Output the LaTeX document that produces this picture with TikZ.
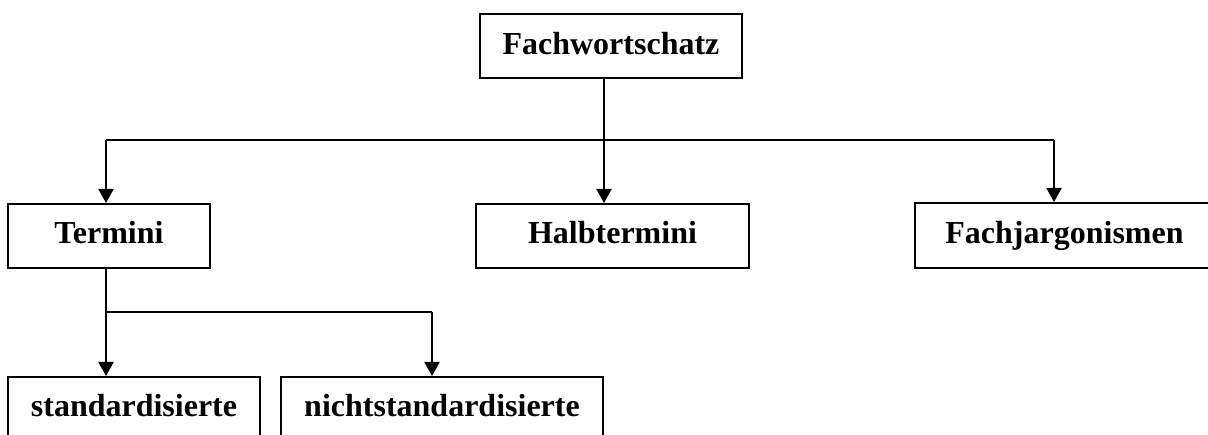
\documentclass[tikz,border=0pt]{standalone}
\usepackage{fontspec}
\setmainfont{Liberation Serif}
\usetikzlibrary{arrows.meta}
\begin{document}
\begin{tikzpicture}[x=1pt,y=-1pt,
  box/.style={draw, line width=2pt, rectangle, inner sep=0pt, minimum height=64pt,
    font=\fontsize{32}{38}\selectfont\bfseries, text height=22pt, text depth=6pt},
  conn/.style={line width=2pt},
  arr/.style={line width=2pt, -{Triangle[width=15pt,length=14pt]}}]
\useasboundingbox (0,0) rectangle (1208,435);
\clip (0,0) rectangle (1208,435);
\node[box, minimum width=262pt] (t) at (611,46.5) {Fachwortschatz};
\node[box, minimum width=202pt] (a) at (109,236) {Termini};
\node[box, minimum width=273pt] (b) at (612.5,236) {Halbtermini};
\node[box, minimum width=299pt, minimum height=65pt] (c) at (1064.5,235.5) {Fachjargonismen};
\node[box, minimum width=252pt] (d) at (134,409) {standardisierte};
\node[box, minimum width=322pt] (e) at (442,409) {nichtstandardisierte};
\coordinate (j) at (604,140);
\coordinate (l) at (106,140);
\coordinate (r) at (1054,140);
\coordinate (k) at (106,312);
\coordinate (m) at (432,312);
\draw[conn] (t.south -| j) -- (j);
\draw[conn] (l) -- (r);
\draw[arr] (l) -- (l |- a.north);
\draw[arr] (j) -- (j |- b.north);
\draw[arr] (r) -- (r |- c.north);
\draw[conn] (a.south -| k) -- (k);
\draw[conn] (k) -- (m);
\draw[arr] (k) -- (k |- d.north);
\draw[arr] (m) -- (m |- e.north);
\end{tikzpicture}
\end{document}
